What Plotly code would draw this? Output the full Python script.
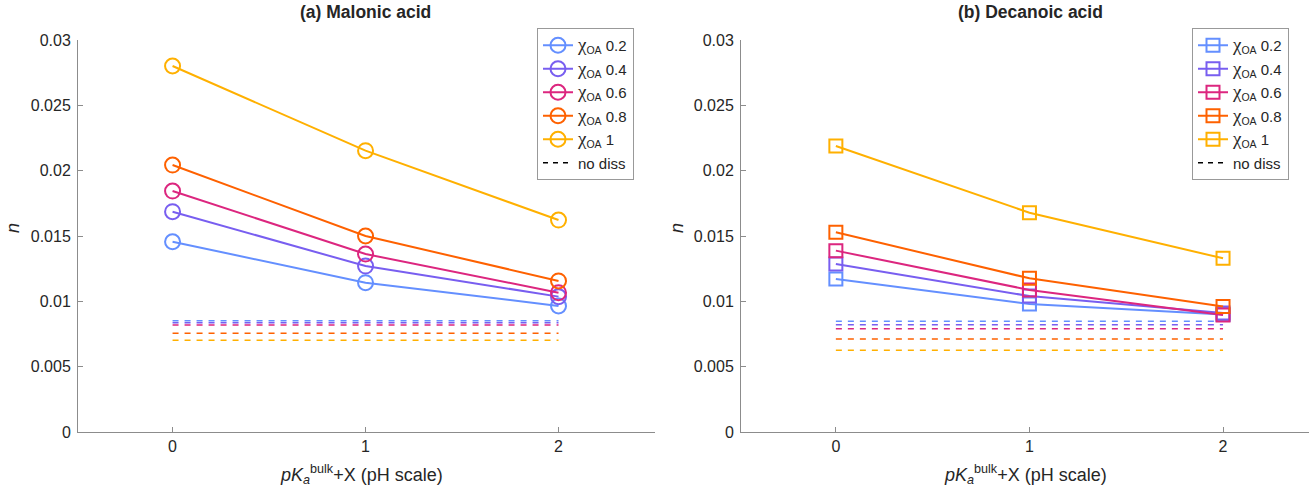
import plotly.graph_objects as go

x_vals = [0, 1, 2]
chi_labels = ["0.2", "0.4", "0.6", "0.8", "1"]
colors = ["#648FFF", "#785EF0", "#DC267F", "#FE6100", "#FFB000"]

# (a) Malonic acid
malonic_n = [
    [0.01456, 0.01143, 0.00965],
    [0.01686, 0.01270, 0.01036],
    [0.01844, 0.01362, 0.01066],
    [0.02043, 0.01500, 0.01156],
    [0.02801, 0.02153, 0.01622],
]
malonic_nodiss = [0.00852, 0.00837, 0.00819, 0.00755, 0.00702]

# (b) Decanoic acid
decanoic_n = [
    [0.01171, 0.00980, 0.00900],
    [0.01286, 0.01040, 0.00910],
    [0.01388, 0.01087, 0.00895],
    [0.01528, 0.01176, 0.00960],
    [0.02189, 0.01678, 0.01329],
]
decanoic_nodiss = [0.00847, 0.00821, 0.00790, 0.00712, 0.00625]

nodiss_x = [0, 2]
y_ticks = [0, 0.005, 0.01, 0.015, 0.02, 0.025, 0.03]
y_ticktext = ["0", "0.005", "0.01", "0.015", "0.02", "0.025", "0.03"]

W, H = 1309, 493
FONT = "Liberation Sans, Arial, sans-serif"
TXT = "#262626"
AX = "#8c8c8c"

fig = go.Figure()

panels = [
    ("x", "y", "legend", "a", malonic_n, malonic_nodiss, "circle-open", 15),
    ("x2", "y2", "legend2", "b", decanoic_n, decanoic_nodiss, "square-open", 13),
]
for xa, ya, leg, tag, data, nod, sym, msize in panels:
    for i, lab in enumerate(chi_labels):
        fig.add_trace(go.Scatter(
            x=nodiss_x, y=[nod[i], nod[i]], mode="lines",
            line=dict(color=colors[i], width=1.5, dash="6px,6px"),
            xaxis=xa, yaxis=ya, showlegend=False, hoverinfo="skip"))
    for i, lab in enumerate(chi_labels):
        fig.add_trace(go.Scatter(
            x=x_vals, y=data[i], mode="lines+markers",
            line=dict(color=colors[i], width=2),
            marker=dict(symbol=sym, size=msize, color=colors[i],
                        line=dict(color=colors[i], width=2)),
            name='<span style="font-family:\'Liberation Serif\', serif;font-size:19px">χ</span>'
                 "<sub>OA</sub> " + lab,
            legendgroup=f"{tag}{i}",
            xaxis=xa, yaxis=ya, legend=leg))
    fig.add_trace(go.Scatter(
        x=[None], y=[None], mode="lines",
        line=dict(color="black", width=1.5, dash="5px,5px"),
        name="no diss", legendgroup=f"{tag}nd", xaxis=xa, yaxis=ya, legend=leg))

xl0, xl1 = 78 / W, 655 / W
xr0, xr1 = 741 / W, 1.0
yb, yt = 1 - 432 / H, 1 - 40 / H

axis_common = dict(
    showline=True, linecolor=AX, linewidth=1, ticks="inside", ticklen=5,
    tickcolor=AX, showgrid=False, zeroline=False, automargin=False,
    tickfont=dict(family=FONT, size=16, color=TXT),
)

leg_common = dict(yanchor="top", xanchor="left", bordercolor="#999999",
                  borderwidth=1, bgcolor="white", tracegroupgap=1,
                  font=dict(family=FONT, size=15, color=TXT))

fig.update_layout(
    template="none",
    width=W, height=H, margin=dict(l=0, r=0, t=0, b=0, autoexpand=False),
    plot_bgcolor="white", paper_bgcolor="white",
    font=dict(family=FONT, size=14, color=TXT),
    xaxis=dict(domain=[xl0, xl1], range=[-0.49, 2.5], tickvals=x_vals,
               anchor="y", **axis_common),
    yaxis=dict(domain=[yb, yt], range=[0, 0.03], tickvals=y_ticks,
               ticktext=y_ticktext, anchor="x", ticklabelstandoff=3, **axis_common),
    xaxis2=dict(domain=[xr0, xr1], range=[-0.49, 2.444], tickvals=x_vals,
                anchor="y2", **axis_common),
    yaxis2=dict(domain=[yb, yt], range=[0, 0.03], tickvals=y_ticks,
                ticktext=y_ticktext, anchor="x2", ticklabelstandoff=3, **axis_common),
    legend=dict(x=537 / W, y=1 - 28 / H, **leg_common),
    legend2=dict(x=1192 / W, y=1 - 28 / H, **leg_common),
)

xlab = "<i>pK</i><sub><i>a</i></sub><sup>bulk</sup>+X (pH scale)"
ann = [
    dict(x=366 / W, y=1 - 12 / H, text="<b>(a) Malonic acid</b>", size=17.5),
    dict(x=1030 / W, y=1 - 12 / H, text="<b>(b) Decanoic acid</b>", size=17.5),
    dict(x=361 / W, y=1 - 474 / H, text=xlab, size=18),
    dict(x=1025 / W, y=1 - 474 / H, text=xlab, size=18),
    dict(x=13 / W, y=1 - 228 / H, text="<i>n</i>", textangle=-90, size=18),
    dict(x=677 / W, y=1 - 228 / H, text="<i>n</i>", textangle=-90, size=18),
]
for a in ann:
    size = a.pop("size")
    fig.add_annotation(xref="paper", yref="paper", showarrow=False,
                       xanchor="center", yanchor="middle",
                       font=dict(family=FONT, size=size, color=TXT), **a)

fig.write_html("out.html")
